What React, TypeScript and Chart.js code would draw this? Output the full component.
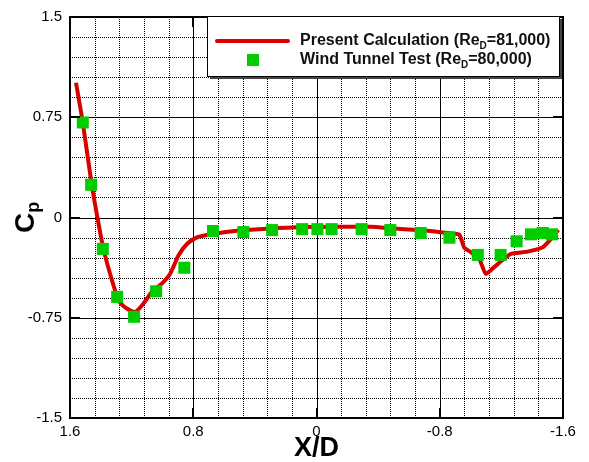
import React, { useEffect, useRef } from 'react';
import { Chart, registerables } from 'chart.js';

Chart.register(...registerables);

const FONT = "'Liberation Sans', Arial, sans-serif";

// Present Calculation (line)
const calcX = [1.561, 1.517, 1.459, 1.422, 1.383, 1.318, 1.279, 1.231, 1.177, 1.123, 1.069, 1.004, 0.950, 0.896, 0.841, 0.776, 0.711, 0.600, 0.516, 0.400, 0.299, 0.200, 0.083, -0.134, -0.351, -0.503, -0.720, -0.850, -0.926, -0.958, -1.002, -1.056, -1.099, -1.153, -1.218, -1.262, -1.370, -1.468, -1.522, -1.570];
const calcY = [1.008, 0.711, 0.245, 0.0, -0.235, -0.507, -0.631, -0.681, -0.706, -0.644, -0.557, -0.495, -0.421, -0.285, -0.198, -0.149, -0.131, -0.110, -0.099, -0.090, -0.082, -0.077, -0.072, -0.069, -0.069, -0.082, -0.099, -0.116, -0.128, -0.223, -0.260, -0.309, -0.421, -0.371, -0.309, -0.272, -0.255, -0.223, -0.161, -0.092];

// Wind Tunnel Test (squares)
const testX = [1.517, 1.463, 1.387, 1.294, 1.184, 1.041, 0.858, 0.672, 0.475, 0.288, 0.093, -0.006, -0.098, -0.293, -0.479, -0.676, -0.863, -1.047, -1.195, -1.299, -1.392, -1.468, -1.529];
const testY = [0.711, 0.245, -0.235, -0.594, -0.743, -0.552, -0.376, -0.101, -0.109, -0.094, -0.087, -0.087, -0.087, -0.087, -0.094, -0.116, -0.151, -0.280, -0.280, -0.178, -0.126, -0.116, -0.126];

const xTickValues = [1.6, 0.8, 0, -0.8, -1.6];
const xTickLabels = ['1.6', '0.8', '0', '-0.8', '-1.6'];
const yTickValues = [-1.5, -0.75, 0, 0.75, 1.5];
const yTickLabels = ['-1.5', '-0.75', '0', '0.75', '1.5'];

type Part = { t: string; sub?: boolean };
const legendRows: Part[][] = [
  [{ t: 'Present Calculation (Re' }, { t: 'D', sub: true }, { t: '=81,000)' }],
  [{ t: 'Wind Tunnel Test (Re' }, { t: 'D', sub: true }, { t: '=80,000)' }],
];
const xTitle = 'X/D';
const yTitle: Part[] = [{ t: 'C' }, { t: 'p', sub: true }];

const RED = '#D90000';
const GREEN = '#00CC00';

function drawParts(ctx: CanvasRenderingContext2D, x: number, y: number, parts: Part[], size: number, subSize: number, subDrop: number) {
  let cx = x;
  for (const p of parts) {
    ctx.font = `bold ${p.sub ? subSize : size}px ${FONT}`;
    ctx.fillText(p.t, cx, p.sub ? y + subDrop : y);
    cx += ctx.measureText(p.t).width;
  }
}

const decorPlugin = {
  id: 'decor',
  beforeDatasetsDraw(chart: any) {
    const { ctx, chartArea, scales } = chart;
    const { left, right, top, bottom } = chartArea;
    const xs = scales.x, ys = scales.y;
    ctx.save();
    // minor dotted grid
    ctx.strokeStyle = '#000';
    ctx.lineWidth = 1;
    ctx.setLineDash([1, 1]);
    for (let i = 0; i <= 20; i++) {
      if (i % 5 === 0) continue;
      const px = Math.round(xs.getPixelForValue(-1.6 + i * 0.16)) + 0.5;
      ctx.beginPath(); ctx.moveTo(px, top); ctx.lineTo(px, bottom); ctx.stroke();
      const py = Math.round(ys.getPixelForValue(-1.5 + i * 0.15)) + 0.5;
      ctx.beginPath(); ctx.moveTo(left, py); ctx.lineTo(right, py); ctx.stroke();
    }
    ctx.setLineDash([]);
    // major solid grid
    for (const v of xTickValues.slice(1, -1)) {
      const px = Math.round(xs.getPixelForValue(v)) + 0.5;
      ctx.beginPath(); ctx.moveTo(px, top); ctx.lineTo(px, bottom); ctx.stroke();
    }
    for (const v of yTickValues.slice(1, -1)) {
      const py = Math.round(ys.getPixelForValue(v)) + 0.5;
      ctx.beginPath(); ctx.moveTo(left, py); ctx.lineTo(right, py); ctx.stroke();
    }
    ctx.restore();
  },
  afterDraw(chart: any) {
    const { ctx, chartArea, scales } = chart;
    const { left, right, top, bottom } = chartArea;
    const xs = scales.x, ys = scales.y;
    ctx.save();
    // ticks
    ctx.strokeStyle = '#000';
    ctx.lineWidth = 2;
    for (const v of xTickValues) {
      const px = Math.round(xs.getPixelForValue(v));
      ctx.beginPath(); ctx.moveTo(px, bottom); ctx.lineTo(px, bottom - 10); ctx.stroke();
      ctx.beginPath(); ctx.moveTo(px, top); ctx.lineTo(px, top + 10); ctx.stroke();
    }
    for (const v of yTickValues) {
      const py = Math.round(ys.getPixelForValue(v));
      ctx.beginPath(); ctx.moveTo(left, py); ctx.lineTo(left + 10, py); ctx.stroke();
      ctx.beginPath(); ctx.moveTo(right, py); ctx.lineTo(right - 10, py); ctx.stroke();
    }
    // frame
    ctx.lineWidth = 2;
    ctx.strokeRect(left, top, right - left, bottom - top);

    // titles
    ctx.fillStyle = '#000';
    ctx.textBaseline = 'middle';
    ctx.textAlign = 'center';
    ctx.font = `bold 27px ${FONT}`;
    ctx.fillText(xTitle, (left + right) / 2, 449);
    ctx.textAlign = 'left';
    ctx.save();
    ctx.translate(26, 233);
    ctx.rotate(-Math.PI / 2);
    drawParts(ctx, 0, 0, yTitle, 28, 18, 8);
    ctx.restore();

    // legend
    const bx = 207, by = 16, bw = 352, bh = 60;
    ctx.fillStyle = '#444';
    ctx.fillRect(bx + 3, by + 3, bw, bh);
    ctx.fillStyle = '#fff';
    ctx.fillRect(bx, by, bw, bh);
    ctx.lineWidth = 1;
    ctx.strokeStyle = '#000';
    ctx.strokeRect(bx + 0.5, by + 0.5, bw, bh);
    ctx.strokeStyle = RED;
    ctx.lineWidth = 4;
    ctx.lineCap = 'round';
    ctx.beginPath(); ctx.moveTo(217, 41); ctx.lineTo(288, 41); ctx.stroke();
    ctx.fillStyle = GREEN;
    ctx.fillRect(247, 54, 12, 12);
    ctx.fillStyle = '#111';
    ctx.textAlign = 'left';
    ctx.textBaseline = 'middle';
    drawParts(ctx, 300, 41, legendRows[0], 16, 10, 5);
    drawParts(ctx, 300, 60, legendRows[1], 16, 10, 5);
    ctx.restore();
  },
};

export default function App() {
  const ref = useRef<HTMLCanvasElement | null>(null);
  useEffect(() => {
    document.body.style.margin = '0';
    document.body.style.overflow = 'hidden';
    const canvas = ref.current!;
    const chart = new Chart(canvas, {
      type: 'scatter',
      data: {
        datasets: [
          {
            label: 'Wind Tunnel Test',
            data: testX.map((x, i) => ({ x, y: testY[i] })),
            pointStyle: 'rect',
            pointRadius: 8.5,
            pointBackgroundColor: GREEN,
            pointBorderWidth: 0,
            borderWidth: 0,
            showLine: false,
            order: 0,
          },
          {
            label: 'Present Calculation',
            data: calcX.map((x, i) => ({ x, y: calcY[i] })),
            showLine: true,
            borderColor: RED,
            borderWidth: 4,
            pointRadius: 0,
            tension: 0.2,
            order: 1,
          },
        ],
      } as any,
      options: {
        animation: false,
        responsive: false,
        layout: { padding: { top: 13, right: 26, left: 0, bottom: 0 } },
        plugins: { legend: { display: false }, tooltip: { enabled: false } },
        scales: {
          x: {
            type: 'linear',
            min: -1.6,
            max: 1.6,
            reverse: true,
            grid: { display: false, drawTicks: false, tickLength: 0 },
            border: { display: false },
            afterBuildTicks: (s: any) => { s.ticks = xTickValues.map((v) => ({ value: v })); },
            afterFit: (s: any) => { s.height = 44; },
            ticks: {
              autoSkip: false,
              maxRotation: 0,
              padding: 5,
              color: '#000',
              font: { family: FONT, size: 15 },
              callback: (_v: any, i: number) => xTickLabels[i],
            },
          },
          y: {
            type: 'linear',
            min: -1.5,
            max: 1.5,
            grid: { display: false, drawTicks: false, tickLength: 0 },
            border: { display: false },
            afterBuildTicks: (s: any) => { s.ticks = yTickValues.map((v) => ({ value: v })); },
            afterFit: (s: any) => { s.width = 70; },
            ticks: {
              autoSkip: false,
              padding: 8,
              color: '#000',
              font: { family: FONT, size: 15 },
              callback: (_v: any, i: number) => yTickLabels[i],
            },
          },
        },
      } as any,
      plugins: [decorPlugin],
    });
    return () => chart.destroy();
  }, []);
  return <canvas ref={ref} width={589} height={462} style={{ display: 'block' }} />;
}
